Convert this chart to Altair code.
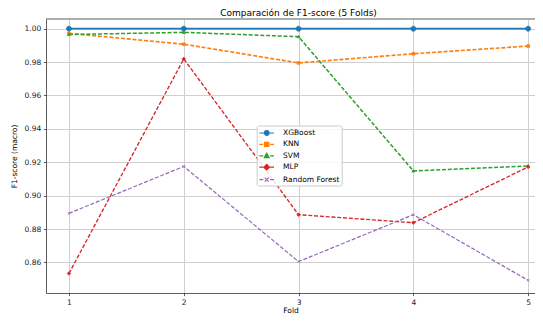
import altair as alt
import pandas as pd

# ---- data ----
folds = [1, 2, 3, 4, 5]
models = ["XGBoost", "KNN", "SVM", "MLP", "Random Forest"]
xgb = [1.0, 1.0, 1.0, 1.0, 1.0]
knn = [0.9972, 0.9907, 0.9795, 0.9850, 0.9896]
svm = [0.9965, 0.9978, 0.9952, 0.9148, 0.9178]
mlp = [0.8534, 0.9819, 0.8886, 0.8838, 0.9172]
rf = [0.8894, 0.9175, 0.8605, 0.8886, 0.8493]
y_ticks = [0.86, 0.88, 0.90, 0.92, 0.94, 0.96, 0.98, 1.00]

colors = ["#1f77b4", "#ff7f0e", "#2ca02c", "#d62728", "#9467bd"]
dashes = [[1, 0], [4, 1.8], [4, 1.8], [4, 1.8], [4, 1.8]]
widths = [1.8, 1.2, 1.2, 1.2, 1.2]

series = [xgb, knn, svm, mlp, rf]
rows = []
for m, vals in zip(models, series):
    for f, v in zip(folds, vals):
        rows.append({"Fold": f, "F1": v, "Modelo": m})
df = pd.DataFrame(rows)

W, H = 489, 274

# marker paths for the plotted points (unit square -1..1)
pt_shapes = [
    "M0.72,0A0.72,0.72 0 1 1 -0.72,0A0.72,0.72 0 1 1 0.72,0Z",
    "M-0.38,-0.38L0.38,-0.38L0.38,0.38L-0.38,0.38Z",
    "M0,-0.45L0.42,0.3L-0.42,0.3Z",
    "M0,-0.5L0.5,0L0,0.5L-0.5,0Z",
    "M-0.36,-0.36L0.36,0.36M-0.36,0.36L0.36,-0.36",
]
# legend handles: line + marker (symbol box is 10px, handle is drawn wider)
c = 0.5
leg_shapes = [
    f"M-0.98,0L1.96,0M{c+0.46},0A0.46,0.46 0 1 1 {c-0.46},0A0.46,0.46 0 1 1 {c+0.46},0Z",
    f"M-0.98,0L-0.2,0M1.2,0L1.96,0M{c-0.42},-0.42L{c+0.42},-0.42L{c+0.42},0.42L{c-0.42},0.42Z",
    f"M-0.98,0L-0.2,0M1.2,0L1.96,0M{c},-0.5L{c+0.48},0.36L{c-0.48},0.36Z",
    f"M-0.98,0L-0.2,0M1.2,0L1.96,0M{c},-0.56L{c+0.56},0L{c},0.56L{c-0.56},0Z",
    f"M-0.98,0L-0.2,0M1.2,0L1.96,0M{c-0.4},-0.4L{c+0.4},0.4M{c-0.4},0.4L{c+0.4},-0.4",
]

x_enc = alt.X("Fold:Q", scale=alt.Scale(domain=[0.8, 0.8 + W / 114.8], nice=False, zero=False),
              axis=alt.Axis(values=folds, format="d", title="Fold"))
y_enc = alt.Y("F1:Q", scale=alt.Scale(domain=[0.8417, 1.0058], nice=False, zero=False),
              axis=alt.Axis(values=y_ticks, format=".2f", title="F1-score (macro)"))

col_scale = alt.Scale(domain=models, range=colors)

lines = alt.Chart(df).mark_line().encode(
    x=x_enc, y=y_enc,
    stroke=alt.Stroke("Modelo:N", scale=col_scale, legend=None),
    strokeDash=alt.StrokeDash("Modelo:N", scale=alt.Scale(domain=models, range=dashes), legend=None),
    strokeWidth=alt.StrokeWidth("Modelo:N", scale=alt.Scale(domain=models, range=widths), legend=None),
    detail="Modelo:N",
)

points = alt.Chart(df).mark_point(filled=True, opacity=1, size=49, strokeWidth=0.8).encode(
    x=x_enc, y=y_enc,
    fill=alt.Fill("Modelo:N", scale=col_scale, legend=None),
    stroke=alt.Stroke("Modelo:N", scale=col_scale, legend=None),
    shape=alt.Shape("Modelo:N", scale=alt.Scale(domain=models, range=pt_shapes), legend=None),
)

legend_layer = alt.Chart(df).transform_filter("false").mark_point(filled=True, opacity=1).encode(
    x=x_enc, y=y_enc,
    fill=alt.Fill("Modelo:N", scale=col_scale, legend=alt.Legend(title=None)),
    stroke=alt.Stroke("Modelo:N", scale=col_scale, legend=alt.Legend(title=None)),
    shape=alt.Shape("Modelo:N", scale=alt.Scale(domain=models, range=leg_shapes),
                    legend=alt.Legend(title=None)),
)

# top spine (frame decoration)
top_spine = alt.Chart(pd.DataFrame({"s": [0]})).mark_rule(color="#333", strokeWidth=0.8).encode(
    x=alt.value(0), x2=alt.value(W), y=alt.value(0)
)

chart = alt.layer(lines, points, legend_layer, top_spine).resolve_scale(
    stroke="independent", fill="independent", shape="independent", strokeDash="independent",
    strokeWidth="independent"
).properties(
    width=W, height=H,
    autosize=alt.AutoSizeParams(type="none"),
    padding={"left": 38, "top": 11, "right": 0, "bottom": 21},
    title=alt.TitleParams("Comparación de F1-score (5 Folds)", font="DejaVu Sans", fontSize=9,
                          fontWeight="normal", color="#000", anchor="middle", frame="group",
                          offset=1, dx=(505 - W) / 2),
).configure_view(
    stroke=None
).configure_axis(
    labelFont="DejaVu Sans", labelFontSize=7.5, labelColor="#222",
    titleFont="DejaVu Sans", titleFontSize=7.5, titleFontWeight="normal", titleColor="#000",
    tickSize=2.6, tickColor="#333", tickWidth=0.8, labelPadding=2.6,
    domain=True, domainColor="#333", domainWidth=0.8,
    gridColor="#cfcfcf", gridWidth=1,
).configure_axisY(titlePadding=6).configure_axisX(titlePadding=1).configure_legend(
    orient="none", legendX=210.7, legendY=106.5,
    padding=1.5, fillColor="rgba(255,255,255,0.85)", strokeColor="#cccccc", cornerRadius=2,
    labelFont="DejaVu Sans", labelFontSize=7.5, labelColor="#000",
    symbolSize=100, symbolStrokeWidth=1.2, rowPadding=0.4, labelOffset=12.8,
)

chart.save("out.html", embed_options={"renderer": "svg", "actions": False})
